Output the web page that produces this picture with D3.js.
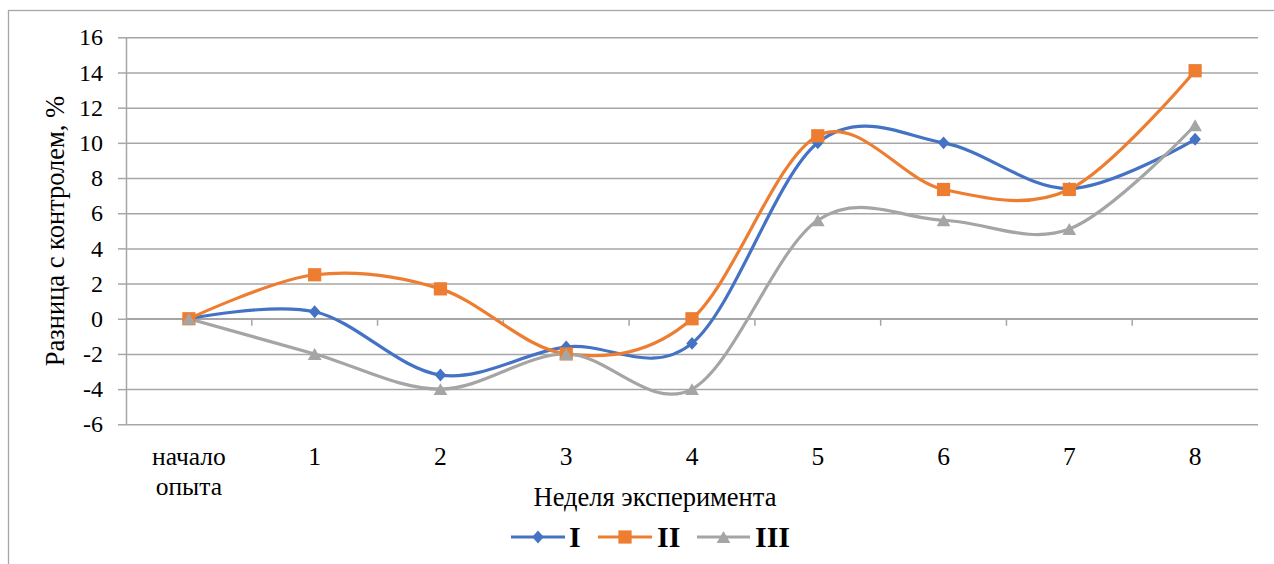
<!DOCTYPE html>
<html>
<head>
<meta charset="utf-8">
<script src="https://cdn.jsdelivr.net/npm/d3@7"></script>
<style>
  html, body { margin: 0; padding: 0; background: #fff; }
  svg { display: block; }
  svg text { font-family: "Liberation Serif", "DejaVu Serif", serif !important; }
</style>
</head>
<body>
<svg id="chart" width="1274" height="564"></svg>
<script>
// Week labels along the horizontal axis
const categories = ["начало опыта", "1", "2", "3", "4", "5", "6", "7", "8"];

// Difference from control, %, for each group
const seriesNames = ["I", "II", "III"];
const valuesI   = [0, 0.4, -3.2, -1.6, -1.4, 10.0, 10.0, 7.4, 10.2];
const valuesII  = [0, 2.5, 1.7, -2.0, 0.0, 10.4, 7.35, 7.35, 14.1];
const valuesIII = [0, -2.0, -4.0, -2.0, -4.0, 5.6, 5.6, 5.1, 11.0];

const yTicks = [-6, -4, -2, 0, 2, 4, 6, 8, 10, 12, 14, 16];

const colors = ["#4472C4", "#ED7D31", "#A5A5A5"];
const symbols = [d3.symbolDiamond2, d3.symbolSquare, d3.symbolTriangle];
const markerSizes = [88, 175, 82];
// per-marker adjustments: diamond is a little taller than wide, triangle centred on its box
const markerScale = ["scale(0.98,1.1)", "", ""];
const markerShift = [0, 0, 2];

const svg = d3.select("#chart");
const W = 1274, H = 564;
const plotLeft = 126, plotRight = 1258, plotTop = 37.3, plotBottom = 424.3;
const gridColor = "#a6a6a6";

// outer chart frame
svg.append("rect")
  .attr("x", 8.5).attr("y", 10.5)
  .attr("width", W + 20).attr("height", H + 20)
  .attr("fill", "none").attr("stroke", gridColor).attr("stroke-width", 1.3);

const x = d3.scaleBand().domain(categories).range([plotLeft, plotRight]);
const y = d3.scaleLinear().domain([-6, 16]).range([plotBottom, plotTop]);

// horizontal grid lines with outward ticks on the value axis
const yAxis = d3.axisLeft(y).tickValues(yTicks).tickSize(8).tickSizeOuter(0).tickPadding(15);
const gy = svg.append("g").attr("transform", `translate(${plotLeft},0)`).call(yAxis);
gy.attr("font-family", null);
gy.select(".domain").attr("stroke", gridColor).attr("stroke-width", 1.5);
gy.selectAll(".tick line").attr("stroke", gridColor).attr("stroke-width", 1.5);
gy.selectAll(".tick text")
  .attr("font-size", 24).attr("fill", "#000")
  .text(d => d < 0 ? "-" + Math.abs(d) : d);
gy.selectAll(".tick").append("line")
  .attr("x1", 0).attr("x2", plotRight - plotLeft)
  .attr("stroke", gridColor).attr("stroke-width", 1.5);

// category axis crossing at zero, tick marks between categories
const boundaries = d3.range(1, categories.length).map(i => plotLeft + i * x.bandwidth());
const g0 = svg.append("g");
g0.append("line")
  .attr("x1", plotLeft).attr("x2", plotRight)
  .attr("y1", y(0)).attr("y2", y(0))
  .attr("stroke", gridColor).attr("stroke-width", 1.5);
g0.selectAll("line.tk").data(boundaries).enter().append("line")
  .attr("class", "tk")
  .attr("x1", d => d).attr("x2", d => d)
  .attr("y1", y(0)).attr("y2", y(0) + 7)
  .attr("stroke", gridColor).attr("stroke-width", 1.5);

// category labels under the plot
const gx = svg.append("g");
categories.forEach(c => {
  const cx = x(c) + x.bandwidth() / 2;
  const t = gx.append("text")
    .attr("x", cx)
    .attr("y", 465)
    .attr("text-anchor", "middle")
    .attr("font-size", 25.5).attr("fill", "#000");
  c.split(" ").forEach((w, i) => {
    t.append("tspan").attr("x", cx).attr("dy", i === 0 ? 0 : 30).text(w);
  });
});

// axis titles
svg.append("text")
  .attr("x", 655).attr("y", 506)
  .attr("text-anchor", "middle").attr("font-size", 26.5).attr("fill", "#000")
  .text("Неделя эксперимента");
svg.append("text")
  .attr("transform", "translate(64,231) rotate(-90)")
  .attr("text-anchor", "middle").attr("font-size", 26.5).attr("fill", "#000")
  .text("Разница с контролем, %");

// series lines and markers
const allSeries = [valuesI, valuesII, valuesIII];
const line = d3.line()
  .x((d, i) => x(categories[i]) + x.bandwidth() / 2)
  .y(d => y(d))
  .curve(d3.curveCatmullRom.alpha(0));

allSeries.forEach((vals, s) => {
  svg.append("path")
    .attr("d", line(vals))
    .attr("fill", "none")
    .attr("stroke", colors[s])
    .attr("stroke-width", 3.2)
    .attr("stroke-linejoin", "round");
});
allSeries.forEach((vals, s) => {
  svg.append("g").selectAll("path").data(vals).enter().append("path")
    .attr("d", d3.symbol().type(symbols[s]).size(markerSizes[s]))
    .attr("transform", (d, i) =>
      `translate(${x(categories[i]) + x.bandwidth() / 2},${y(d) + markerShift[s]}) ${markerScale[s]}`)
    .attr("fill", colors[s]);
});

// legend
const legendItems = [
  { x0: 511, x1: 565, tx: 569 },
  { x0: 598, x1: 652, tx: 657 },
  { x0: 697, x1: 750, tx: 755 }
];
const ly = 537;
legendItems.forEach((it, s) => {
  const g = svg.append("g");
  g.append("line")
    .attr("x1", it.x0).attr("x2", it.x1).attr("y1", ly).attr("y2", ly)
    .attr("stroke", colors[s]).attr("stroke-width", 3.2);
  g.append("path")
    .attr("d", d3.symbol().type(symbols[s]).size(markerSizes[s]))
    .attr("transform", `translate(${(it.x0 + it.x1) / 2},${ly + markerShift[s]}) ${markerScale[s]}`)
    .attr("fill", colors[s]);
  g.append("text")
    .attr("x", it.tx).attr("y", ly + 10)
    .attr("font-size", 30).attr("font-weight", "bold").attr("fill", "#000")
    .text(seriesNames[s]);
});
</script>
</body>
</html>
